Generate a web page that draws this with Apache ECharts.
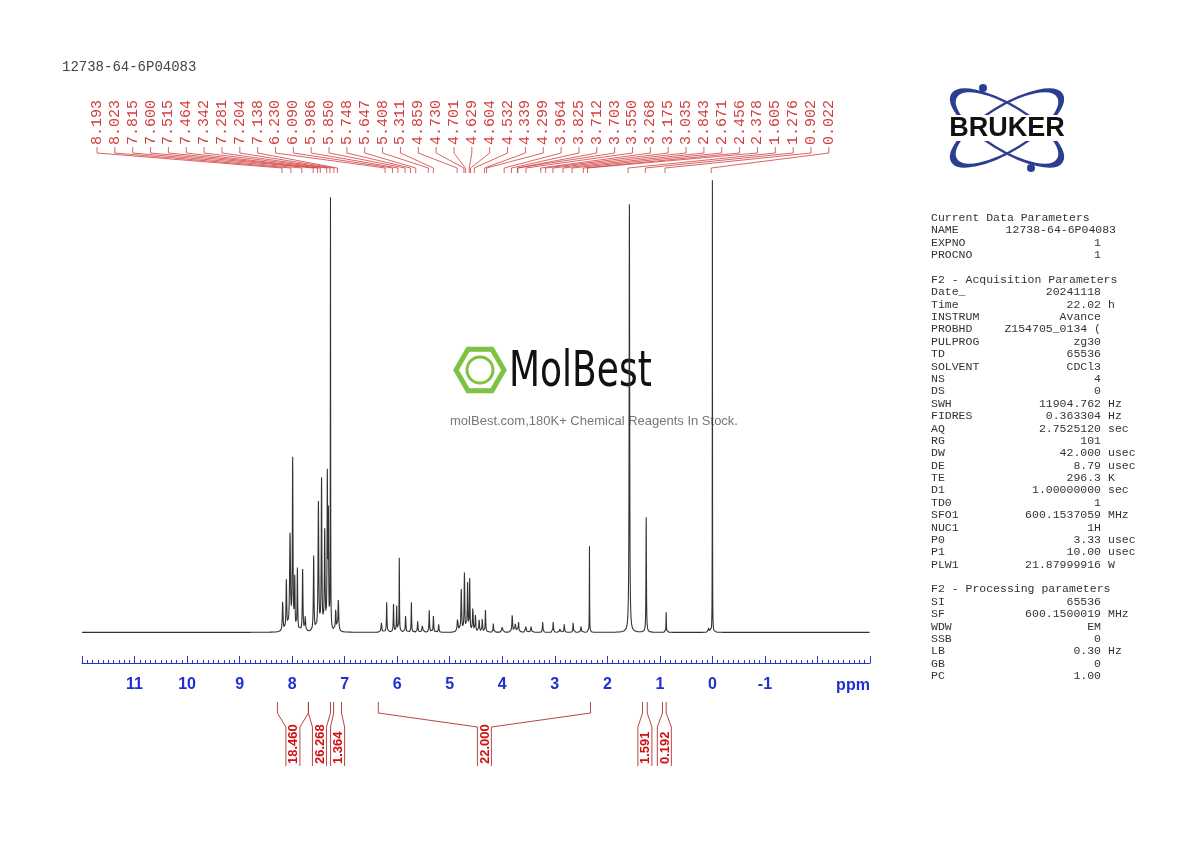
<!DOCTYPE html>
<html>
<head>
<meta charset="utf-8">
<script src="https://cdn.jsdelivr.net/npm/echarts@6/dist/echarts.min.js"></script>
<style>
html,body{margin:0;padding:0;background:#fff;}
#main{width:1190px;height:842px;}
</style>
</head>
<body>
<div id="main"></div>
<script>
// peak list: [ppm, height (px above baseline), half width (ppm)]
var peaks = [
  [8.18,31,0.008],[8.11,50,0.008],[8.04,95,0.010],[7.99,170,0.007],[7.95,50,0.006],
  [7.90,62,0.006],[7.80,62,0.007],[7.75,14,0.008],[7.59,75,0.007],[7.50,128,0.008],
  [7.44,150,0.007],[7.38,98,0.008],[7.33,150,0.006],[7.31,110,0.006],[7.27,430,0.003],
  [7.17,22,0.008],[7.12,33,0.008],
  [6.30,10,0.008],[6.20,30,0.006],[6.07,28,0.006],[6.01,26,0.006],[5.96,74,0.004],
  [5.84,18,0.006],[5.73,30,0.005],[5.61,12,0.006],[5.52,8,0.008],[5.39,22,0.006],
  [5.31,18,0.006],[5.21,8,0.006],[4.85,14,0.010],[4.78,42,0.008],[4.72,58,0.007],
  [4.66,48,0.007],[4.62,52,0.006],[4.56,24,0.008],[4.51,18,0.006],[4.44,12,0.008],
  [4.38,14,0.006],[4.32,22,0.006],[4.17,10,0.005],[4.00,6,0.010],[3.81,18,0.008],
  [3.75,10,0.008],[3.69,10,0.007],[3.55,7,0.008],[3.45,6,0.008],[3.23,12,0.005],
  [3.03,12,0.005],[2.90,5,0.008],[2.82,8,0.006],[2.65,11,0.005],[2.50,6,0.008],
  [2.34,86,0.003],
  [1.58,428,0.006],[1.26,115,0.005],[0.88,20,0.004],[0.07,6,0.006],[0.00,452,0.002]
];
// peak pick labels (ppm)
var pickLabels = ['8.193','8.023','7.815','7.600','7.515','7.464','7.342','7.281','7.204','7.138',
  '6.230','6.090','5.986','5.850','5.748','5.647','5.408','5.311','4.859','4.730','4.701','4.629',
  '4.604','4.532','4.339','4.299','3.964','3.825','3.712','3.703','3.550','3.268','3.175','3.035',
  '2.843','2.671','2.456','2.378','1.605','1.276','0.902','0.022'];
// integrals: [from ppm, to ppm, value]
var integrals = [
  [8.28,7.69,'18.460'],[7.69,7.27,'26.268'],[7.21,7.06,'1.364'],
  [6.36,2.32,'22.000'],[1.33,1.24,'1.591'],[0.95,0.88,'0.192']
];
var paramTitle = 'Current Data Parameters';
var params0 = [['NAME','12738-64-6P04083',''],['EXPNO','1',''],['PROCNO','1','']];
var paramTitle1 = 'F2 - Acquisition Parameters';
var params1 = [['Date_','20241118',''],['Time','22.02','h'],['INSTRUM','Avance',''],
  ['PROBHD','Z154705_0134 (',''],['PULPROG','zg30',''],['TD','65536',''],['SOLVENT','CDCl3',''],
  ['NS','4',''],['DS','0',''],['SWH','11904.762','Hz'],['FIDRES','0.363304','Hz'],
  ['AQ','2.7525120','sec'],['RG','101',''],['DW','42.000','usec'],['DE','8.79','usec'],
  ['TE','296.3','K'],['D1','1.00000000','sec'],['TD0','1',''],['SFO1','600.1537059','MHz'],
  ['NUC1','1H',''],['P0','3.33','usec'],['P1','10.00','usec'],['PLW1','21.87999916','W']];
var paramTitle2 = 'F2 - Processing parameters';
var params2 = [['SI','65536',''],['SF','600.1500019','MHz'],['WDW','EM',''],['SSB','0',''],
  ['LB','0.30','Hz'],['GB','0',''],['PC','1.00','']];

var spectrum = [];
for (var i = 0; i <= 7500; i++) {
  var x = 12 - i * 0.002, y = 0.6;
  for (var k = 0; k < peaks.length; k++) {
    var d = x - peaks[k][0], w = peaks[k][2];
    y += peaks[k][1] * w * w / (d * d + w * w);
  }
  spectrum.push([x, Math.min(y, 453)]);
}

var mono = '"Liberation Mono", "DejaVu Sans Mono", monospace';
var red = '#d23c3c';
var graphics = [];
graphics.push({type:'text', left:62, top:60, style:{text:'12738-64-6P04083', font:'14px ' + mono, fill:'#444'}});
// parameter panel
var py = 218, step = 12.38;
function addRow(name, val, unit) {
  var f = '11.5px ' + mono;
  graphics.push({type:'text', x:931, y:py, style:{text:name, font:f, fill:'#333', verticalAlign:'middle'}});
  if (val) graphics.push({type:'text', x: name === 'NAME' ? 1116 : 1101, y:py, style:{text:val, font:f, fill:'#333', align:'right', verticalAlign:'middle'}});
  if (unit) graphics.push({type:'text', x:1108, y:py, style:{text:unit, font:f, fill:'#333', verticalAlign:'middle'}});
  py += step;
}
addRow(paramTitle); params0.forEach(function(r){addRow(r[0], r[1], r[2]);}); py += step;
addRow(paramTitle1); params1.forEach(function(r){addRow(r[0], r[1], r[2]);}); py += step;
addRow(paramTitle2); params2.forEach(function(r){addRow(r[0], r[1], r[2]);});
// Bruker logo
graphics.push({type:'group', x:1007, y:128, children:[
  {type:'circle', shape:{cx:0,cy:0,r:62}, scaleY:0.36, rotation:0.55, style:{fill:'none', stroke:'#2a3f8f', lineWidth:4, strokeNoScale:true}},
  {type:'circle', shape:{cx:0,cy:0,r:62}, scaleY:0.36, rotation:-0.55, style:{fill:'none', stroke:'#2a3f8f', lineWidth:4, strokeNoScale:true}},
  {type:'circle', shape:{cx:-24,cy:-40,r:4}, style:{fill:'#2a3f8f'}},
  {type:'circle', shape:{cx:24,cy:40,r:4}, style:{fill:'#2a3f8f'}},
  {type:'rect', shape:{x:-82,y:-13,width:164,height:26}, style:{fill:'#fff'}},
  {type:'text', x:0, y:1, style:{text:'BRUKER', font:'bold 27px "Liberation Sans", Arial', fill:'#111', align:'center', verticalAlign:'middle'}}
]});
// watermark
var hex = [];
for (var h = 0; h < 6; h++) hex.push([480 + 24 * Math.cos(Math.PI / 3 * h), 370 + 24 * Math.sin(Math.PI / 3 * h)]);
graphics.push({type:'polygon', z:-1, shape:{points:hex}, style:{fill:'none', stroke:'#7dc242', lineWidth:5}});
graphics.push({type:'circle', z:-1, shape:{cx:480, cy:370, r:13}, style:{fill:'none', stroke:'#7dc242', lineWidth:3}});
graphics.push({type:'text', z:-1, x:509, y:373, style:{text:'MolBest', font:'50px "DejaVu Sans Condensed", "Liberation Sans Narrow", sans-serif', fill:'#111', verticalAlign:'middle'}, scaleX:0.8});
graphics.push({type:'text', z:-1, x:594, y:421, style:{text:'molBest.com,180K+ Chemical Reagents In Stock.', font:'13px "Liberation Sans", Arial', fill:'#777', align:'center', verticalAlign:'middle'}});
graphics.push({type:'text', x:853, y:686, style:{text:'ppm', font:'bold 16px "Liberation Sans", Arial', fill:'#1f2fd0', align:'center', verticalAlign:'middle'}});

var chart = echarts.init(document.getElementById('main'));
chart.setOption({
  animation: false,
  backgroundColor: '#fff',
  grid: [{left: 82, right: 320, top: 180, bottom: 209}, {left: 82, right: 320, top: 663, height: 0}],
  xAxis: [
    {type: 'value', inverse: true, min: -3, max: 12, gridIndex: 0, show: false},
    {
      type: 'value', inverse: true, min: -3, max: 12, interval: 1, gridIndex: 1,
      axisLine: {lineStyle: {color: '#2533c8', width: 1.2}},
      axisTick: {inside: true, length: 7, lineStyle: {color: '#2533c8'}},
      minorTick: {show: true, splitNumber: 10, length: 3, lineStyle: {color: '#2533c8'}},
      splitLine: {show: false},
      axisLabel: {margin: 14, color: '#1f2fd0', fontWeight: 'bold', fontSize: 16, fontFamily: 'Liberation Sans',
        formatter: function (v) { return (v >= 12 || v <= -2) ? '' : String(v); }}
    }
  ],
  yAxis: [{type: 'value', min: 0, max: 453, show: false, gridIndex: 0},
          {type: 'value', min: 0, max: 1, show: false, gridIndex: 1}],
  graphic: graphics,
  series: [
    {type: 'line', data: spectrum, showSymbol: false, symbol: 'none', lineStyle: {color: '#333', width: 1.1}, z: 3},
    {
      type: 'custom', data: pickLabels.map(function (s, i) { return [parseFloat(s), i]; }), clip: false,
      renderItem: function (p, api) {
        var px = api.coord([api.value(0), 0])[0];
        var lx = 97 + api.value(1) * 17.85;
        return {type: 'group', children: [
          {type: 'text', x: lx, y: 145, rotation: Math.PI / 2,
            style: {text: pickLabels[api.value(1)], font: '15px ' + mono, fill: red, align: 'left', verticalAlign: 'middle'}},
          {type: 'polyline', shape: {points: [[lx, 147], [lx, 153], [px, 168], [px, 173]]},
            style: {fill: 'none', stroke: red, lineWidth: 0.8}}
        ]};
      }
    },
    {
      type: 'custom', data: integrals.map(function (r, i) { return [r[0], r[1], i]; }), clip: false,
      renderItem: function (p, api) {
        var x1 = api.coord([api.value(0), 0])[0], x2 = api.coord([api.value(1), 0])[0];
        var c = (x1 + x2) / 2, hw = 7;
        var stroke = {fill: 'none', stroke: '#b03030', lineWidth: 0.9};
        return {type: 'group', children: [
          {type: 'polyline', shape: {points: [[x1, 702], [x1, 713], [c - hw, 727], [c - hw, 766]]}, style: stroke},
          {type: 'polyline', shape: {points: [[x2, 702], [x2, 713], [c + hw, 727], [c + hw, 766]]}, style: stroke},
          {type: 'text', x: c + 1, y: 764, rotation: Math.PI / 2,
            style: {text: integrals[api.value(2)][2], font: 'bold 13px "Liberation Sans", Arial', fill: '#d01010', align: 'left', verticalAlign: 'middle'}}
        ]};
      }
    }
  ]
});
</script>
</body>
</html>
